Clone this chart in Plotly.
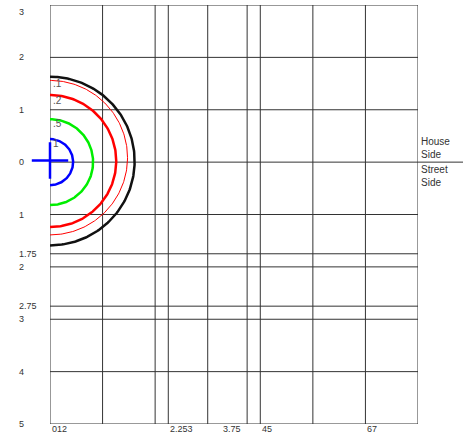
import numpy as np
import plotly.graph_objects as go

# ---- data ----
arc_names = ["1", ".5", ".2", ".1 thin", ".1"]
arc_radius = [0.44, 0.82, 1.26, 1.475, 1.61]
arc_center_y = [0.0, 0.0, 0.02, 0.085, 0.02]
arc_colors = ["#0000ff", "#00ee00", "#ff0000", "#ff0000", "#111111"]
arc_widths = [2.5, 2.5, 2.5, 1, 2.5]

arc_label_text = [".1", ".2", ".5", "1"]
arc_label_y = [1.51, 1.18, 0.73, 0.36]

x_grid = [0, 1, 2, 2.25, 3, 3.75, 4, 5, 6, 7]
y_grid = [3, 2, 1, 0, -1, -1.75, -2, -2.75, -3, -4, -5]
y_tick_text = ["3", "2", "1", "0", "1", "1.75", "2", "2.75", "3", "4", "5"]

x_label_text = ["012", "2.253", "3.75", "45", "67"]
x_label_pos = [0, 2.25, 3.25, 4, 6]

side_labels = ["House<br>Side", "Street<br>Side"]

fig = go.Figure()

theta = np.linspace(-np.pi / 2, np.pi / 2, 181)
for r, cy, c, w in zip(arc_radius, arc_center_y, arc_colors, arc_widths):
    fig.add_trace(go.Scatter(x=r * np.cos(theta), y=cy + r * np.sin(theta),
                             mode="lines", line=dict(color=c, width=w),
                             hoverinfo="skip", showlegend=False, cliponaxis=False))

fig.add_trace(go.Scatter(x=[0], y=[0.03], mode="markers",
                         marker=dict(symbol="cross-thin", size=26,
                                     line=dict(color="#0000ff", width=2.5)),
                         showlegend=False, cliponaxis=False))

font = dict(family="Liberation Sans, Arial", size=9, color="#333")
ann = []
for t, yv in zip(arc_label_text, arc_label_y):
    ann.append(dict(x=0, y=yv, text=t, showarrow=False, xanchor="left",
                    yanchor="middle", font=dict(family="Liberation Sans, Arial", size=10, color="#555"), xshift=1))
for i, (t, yv) in enumerate(zip(y_tick_text, y_grid)):
    ann.append(dict(xref="paper", x=-33 / 368, y=yv, text=t, showarrow=False,
                    xanchor="left", yanchor="top" if i == 0 else "middle", font=font))
for t, xv in zip(x_label_text, x_label_pos):
    ann.append(dict(x=xv, yref="paper", y=0, text=t, showarrow=False,
                    xanchor="left", yanchor="top", font=font, yshift=2))
ann.append(dict(xref="paper", x=1.003, y=0, text=side_labels[0], showarrow=False,
                xanchor="left", yanchor="bottom", align="left",
                font=dict(family="Liberation Sans, Arial", size=10, color="#333")))
ann.append(dict(xref="paper", x=1.003, y=0, text=side_labels[1], showarrow=False,
                xanchor="left", yanchor="top", align="left",
                font=dict(family="Liberation Sans, Arial", size=10, color="#333")))

shapes = []
for xv in x_grid:
    shapes.append(dict(type="line", x0=xv, x1=xv, y0=-5, y1=3,
                       line=dict(color="#333", width=1), layer="below"))
for yv in y_grid:
    if yv == 0:
        shapes.append(dict(type="line", xref="paper", x0=0, x1=413 / 368, y0=yv, y1=yv,
                           line=dict(color="#333", width=1), layer="below"))
    else:
        shapes.append(dict(type="line", x0=0, x1=7, y0=yv, y1=yv,
                           line=dict(color="#333", width=1), layer="below"))

fig.update_layout(
    width=463, height=437,
    margin=dict(l=50, r=45, t=5, b=13),
    plot_bgcolor="white", paper_bgcolor="white",
    xaxis=dict(range=[0, 7], showgrid=False, zeroline=False, showticklabels=False,
               ticks="", fixedrange=True),
    yaxis=dict(range=[-5, 3], showgrid=False, zeroline=False, showticklabels=False,
               ticks="", fixedrange=True),
    annotations=ann, shapes=shapes, showlegend=False,
)

fig.write_html("out.html", config={"displayModeBar": False},
               post_script="document.body.style.margin='0';document.body.style.overflow='hidden';")
